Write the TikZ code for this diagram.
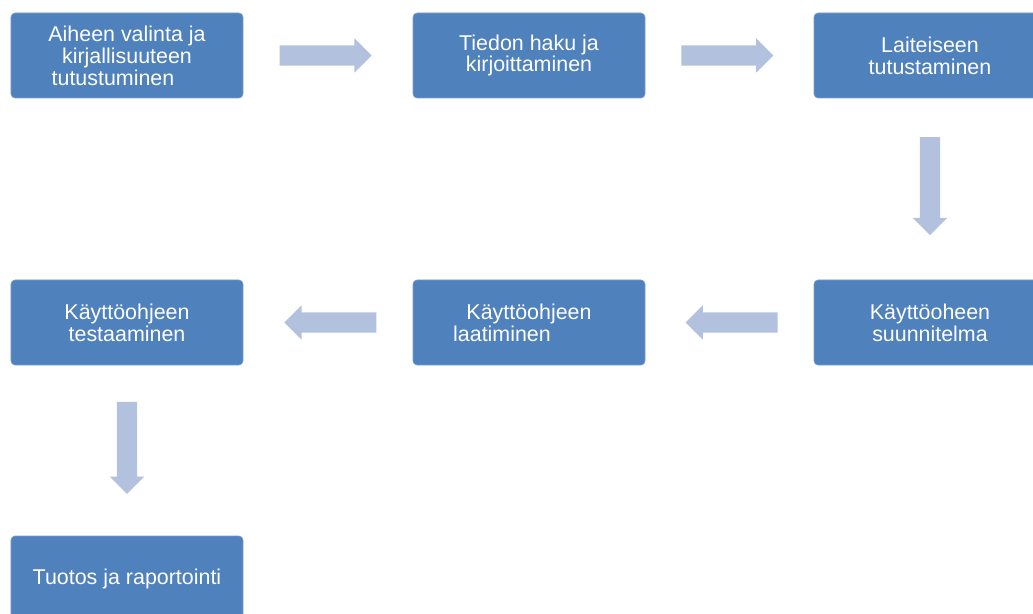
\documentclass[tikz,border=0pt]{standalone}
\usepackage{fontspec}
\setmainfont{Liberation Sans}
\usetikzlibrary{calc,shapes.arrows}
\definecolor{boxblue}{HTML}{4F81BD}
\definecolor{arrowblue}{HTML}{B2C2DE}

\begin{document}
\begin{tikzpicture}[x=1bp,y=-1bp,
  stage/.style={draw=boxblue!75!white,line width=0.6bp,fill=boxblue,rounded corners=4bp,
    minimum width=232bp,minimum height=85bp,inner sep=0pt,align=center,text=white,
    font=\fontsize{21.5}{22}\selectfont},
  flow/.style={single arrow,fill=arrowblue,draw=none,minimum height=92bp,minimum width=0pt,
    single arrow head extend=7bp,single arrow head indent=0pt,inner sep=10bp,anchor=tail}]
  \useasboundingbox (0,0) rectangle (1033,614);
  % First row
  \node[stage] (valinta) at (127,55.5) {Aiheen valinta ja\\kirjallisuuteen\\tutustuminen\hspace*{28bp}};
  \node[stage] (haku) at (529,55.5) {Tiedon haku ja\\kirjoittaminen};
  \node[stage] (laite) at (930,55.5) {Laiteiseen\\tutustaminen};
  % Second row
  \node[stage] (suunn) at (930,322.5) {Käyttöoheen\\suunnitelma};
  \node[stage] (laadinta) at (529,322.5) {Käyttöohjeen\\laatiminen\hspace*{54bp}};
  \node[stage] (testaus) at (127,322.5) {Käyttöohjeen\\testaaminen};
  % Last box
  \node[stage] (tuotos) at (127,578.5) {Tuotos ja raportointi};
  % Arrows between the stages
  \node[flow] (f1) at ($(valinta.east)!0.213!(haku.west)$) {};
  \node[flow] (f2) at ($(haku.east)!0.213!(laite.west)$) {};
  \node[flow,minimum height=98bp,shape border rotate=270] (f3) at ($(laite.south)!0.213!(suunn.north)$) {};
  \node[flow,shape border rotate=180] (f4) at ($(suunn.west)!0.213!(laadinta.east)$) {};
  \node[flow,shape border rotate=180] (f5) at ($(laadinta.west)!0.213!(testaus.east)$) {};
  \node[flow,shape border rotate=270] (f6) at ($(testaus.south)!0.213!(tuotos.north)$) {};
\end{tikzpicture}
\end{document}
